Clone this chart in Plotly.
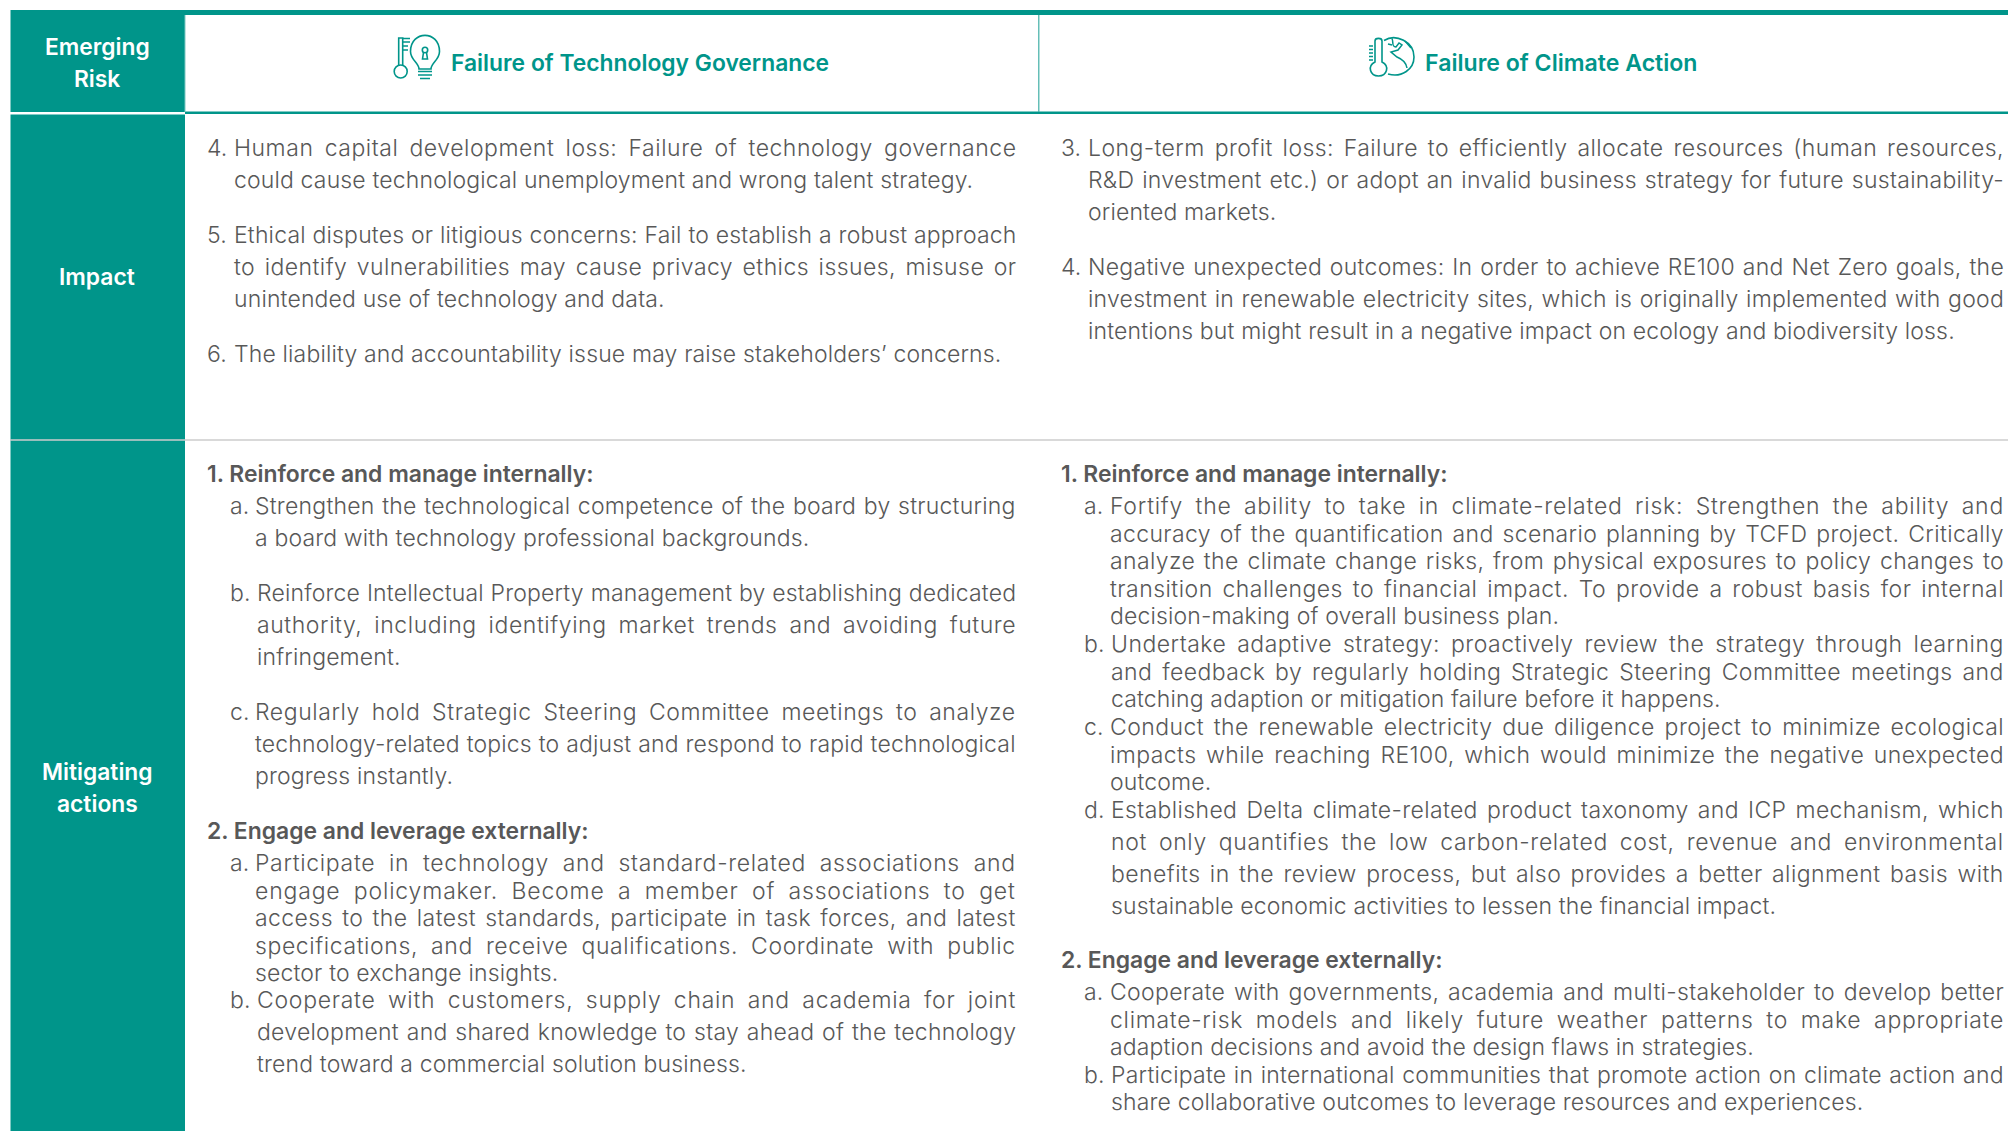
import plotly.graph_objects as go

FONT = "Inter"
TEAL = "#00958A"
GREY = "#585858"
BODY_SIZE = 23
BODY_WEIGHT = 300

ROW_LABELS = [["Emerging", "Risk"], ["Impact"], ["Mitigating", "actions"]]
COLUMN_TITLES = ["Failure of Technology Governance", "Failure of Climate Action"]

LEFT_IMPACT = [
    ("4.", ["Human capital development loss: Failure of technology governance",
            "could cause technological unemployment and wrong talent strategy."]),
    ("5.", ["Ethical disputes or litigious concerns: Fail to establish a robust approach",
            "to identify vulnerabilities may cause privacy ethics issues, misuse or",
            "unintended use of technology and data."]),
    ("6.", ["The liability and accountability issue may raise stakeholders\u2019 concerns."]),
]
RIGHT_IMPACT = [
    ("3.", ["Long-term profit loss: Failure to efficiently allocate resources (human resources,",
            "R&D investment etc.) or adopt an invalid business strategy for future sustainability-",
            "oriented markets."]),
    ("4.", ["Negative unexpected outcomes: In order to achieve RE100 and Net Zero goals, the",
            "investment in renewable electricity sites, which is originally implemented with good",
            "intentions but might result in a negative impact on ecology and biodiversity loss."]),
]
HEAD_1 = "1. Reinforce and manage internally:"
HEAD_2 = "2. Engage and leverage externally:"
LEFT_MIT_1 = [
    ("a.", ["Strengthen the technological competence of the board by structuring",
            "a board with technology professional backgrounds."]),
    ("b.", ["Reinforce Intellectual Property management by establishing dedicated",
            "authority, including identifying market trends and avoiding future",
            "infringement."]),
    ("c.", ["Regularly hold Strategic Steering Committee meetings to analyze",
            "technology-related topics to adjust and respond to rapid technological",
            "progress instantly."]),
]
LEFT_MIT_2 = [
    ("a.", ["Participate in technology and standard-related associations and",
            "engage policymaker. Become a member of associations to get",
            "access to the latest standards, participate in task forces, and latest",
            "specifications, and receive qualifications. Coordinate with public",
            "sector to exchange insights."]),
    ("b.", ["Cooperate with customers, supply chain and academia for joint",
            "development and shared knowledge to stay ahead of the technology",
            "trend toward a commercial solution business."]),
]
RIGHT_MIT_1 = [
    ("a.", ["Fortify the ability to take in climate-related risk: Strengthen the ability and",
            "accuracy of the quantification and scenario planning by TCFD project. Critically",
            "analyze the climate change risks, from physical exposures to policy changes to",
            "transition challenges to financial impact. To provide a robust basis for internal",
            "decision-making of overall business plan."]),
    ("b.", ["Undertake adaptive strategy: proactively review the strategy through learning",
            "and feedback by regularly holding Strategic Steering Committee meetings and",
            "catching adaption or mitigation failure before it happens."]),
    ("c.", ["Conduct the renewable electricity due diligence project to minimize ecological",
            "impacts while reaching RE100, which would minimize the negative unexpected",
            "outcome."]),
    ("d.", ["Established Delta climate-related product taxonomy and ICP mechanism, which",
            "not only quantifies the low carbon-related cost, revenue and environmental",
            "benefits in the review process, but also provides a better alignment basis with",
            "sustainable economic activities to lessen the financial impact."]),
]
RIGHT_MIT_2 = [
    ("a.", ["Cooperate with governments, academia and multi-stakeholder to develop better",
            "climate-risk models and likely future weather patterns to make appropriate",
            "adaption decisions and avoid the design flaws in strategies."]),
    ("b.", ["Participate in international communities that promote action on climate action and",
            "share collaborative outcomes to leverage resources and experiences."]),
]

W, H = 2008, 1131
shapes, anns = [], []


def rect(x0, y0, x1, y1, color):
    shapes.append(dict(type="rect", xref="x", yref="y", x0=x0, y0=y0, x1=x1, y1=y1,
                       fillcolor=color, line_width=0, layer="below"))


def path(d, width=1.6):
    shapes.append(dict(type="path", xref="x", yref="y", path=d,
                       line=dict(color=TEAL, width=width),
                       fillcolor="rgba(0,0,0,0)"))


def circle(cx, cy, r, width=1.6):
    shapes.append(dict(type="circle", xref="x", yref="y",
                       x0=cx - r, y0=cy - r, x1=cx + r, y1=cy + r,
                       line=dict(color=TEAL, width=width),
                       fillcolor="rgba(0,0,0,0)"))


def text(x, y, s, size=BODY_SIZE, color=GREY, weight=BODY_WEIGHT, anchor="left", right=None):
    anns.append(dict(xref="x", yref="y", x=x, y=y, text=s, showarrow=False,
                     xanchor=anchor, yanchor="middle", align=anchor,
                     font=dict(family=FONT, size=size, color=color, weight=weight),
                     borderpad=0, borderwidth=0,
                     name=f"j{right}" if right else "n"))


def flow(paragraphs, y, xm, xt, right, pitches, gaps, offsets=None):
    for i, (mark, lines) in enumerate(paragraphs):
        text(xm, y, mark)
        dx = offsets[i] if offsets else 0
        for k, line in enumerate(lines):
            text(xt + dx, y, line, right=right if k < len(lines) - 1 else None)
            if k < len(lines) - 1:
                y += pitches[i]
        y += gaps[i]


# table frame
rect(10.5, 10, 185, H, TEAL)
rect(185, 10, W, 15, TEAL)
rect(185, 111.5, W, 114, TEAL)
rect(10, 112, 185, 114.5, "#FFFFFF")
rect(185, 439.2, W, 440.8, "#CCCCCC")
rect(10, 439.2, 185, 440.8, "#CCCCCC")
rect(1038.2, 15, 1039.4, 112, "#3FAEA6")
rect(184.5, 15, 185.5, 112, "#7CC8C2")

# row labels
for lines, ys in zip(ROW_LABELS, [[46.5, 78.5], [276.5], [771.5, 803.5]]):
    for s, y in zip(lines, ys):
        text(97, y, s, size=22.8, color="#FFFFFF", weight=600, anchor="center")

# column titles
text(451, 63.2, COLUMN_TITLES[0], size=22.85, color=TEAL, weight=600)
text(1425, 63.2, COLUMN_TITLES[1], size=23.1, color=TEAL, weight=600)

# impact row
flow(LEFT_IMPACT, 148, 207.2, 233.5, 1016, [32, 32, 32], [55, 55, 0])
flow(RIGHT_IMPACT, 148, 1061.2, 1088, 2004, [32, 32], [55, 0])

# mitigation row, left column
text(207.2, 474, HEAD_1, weight=600, size=22.9)
flow(LEFT_MIT_1, 506, 230, 255.3, 1016, [32, 32, 32], [55, 55, 0], [0, 1.5, 0])
text(207.2, 831, HEAD_2, weight=600, size=22.9)
flow(LEFT_MIT_2, 863, 230, 255.3, 1016, [27.5, 32], [27, 0], [0, 1.5])

# mitigation row, right column
text(1061.2, 474, HEAD_1, weight=600, size=22.9)
flow(RIGHT_MIT_1, 506, 1084, 1110, 2004, [27.5, 27.5, 27.5, 32], [28, 28, 27.5, 0], [0, 1.2, 0, 1.2])
text(1061.2, 960, HEAD_2, weight=600, size=22.9)
flow(RIGHT_MIT_2, 992, 1084, 1110, 2004, [27.5, 27.5], [27.5, 0], [0, 1.2])

# key + bulb icon
path("M398.7,65.5 L398.7,38 L402.7,38 L402.7,65.5")
circle(400.7, 71.5, 6.5)
path("M402.7,38.5 L410,38.5 M402.7,42 L410,42 M402.7,46 L408,46 M402.7,50 L408,50")
path("M419,69 C419,63 410.5,60 410.5,51.5 C410.5,30 439.5,30 439.5,51.5 C439.5,60 431,63 431,69 Z")
path("M418,71.5 L432,71.5 M418,75 L432,75 M420,78.5 L430,78.5")
circle(425, 50, 2.7)
path("M423.5,52.5 L422.5,59 L427.5,59 L426.5,52.5")

# thermometer + globe icon
path("M1375,41 L1375,62 C1367,66 1370,76 1378.5,76 C1387,76 1390,66 1382,62 L1382,41 C1382,37.5 1375,37.5 1375,41 Z")
path("M1369,46 L1373,46 M1369,49.5 L1373,49.5 M1369,53 L1373,53 M1369,56.5 L1373,56.5 M1369,60 L1373,60", width=1.3)
path("M1384,40.5 C1396,33 1414,42 1414,57 C1414,69 1402,78 1388,74", width=1.6)
path("M1392,38.5 C1394,43 1391,46 1396,47 L1399,43 L1402,45 L1398,50 L1391,52 L1397,57 C1402,59 1406,62 1407,68", width=1.5)
path("M1388,44 L1392,45 M1405,41 L1411,48", width=1.5)

fig = go.Figure()
fig.update_layout(
    width=W, height=H, margin=dict(l=0, r=0, t=0, b=0),
    paper_bgcolor="#FFFFFF", plot_bgcolor="#FFFFFF", showlegend=False,
    xaxis=dict(range=[0, W], visible=False, fixedrange=True),
    yaxis=dict(range=[H, 0], visible=False, fixedrange=True),
    shapes=shapes, annotations=anns,
)

JUSTIFY = """
document.body.style.margin = '0';
document.body.style.overflow = 'hidden';
var gd = document.getElementById('{plot_id}');
var BASE = 0.15, LETTER_SHARE = 0.45;
(gd.layout.annotations || []).forEach(function (a, i) {
  var t = document.querySelector('.annotation[data-index="' + i + '"] text');
  if (!t) return;
  if (a.font.weight === 300) t.style.letterSpacing = BASE + 'px';
  if (!a.name || a.name.charAt(0) !== 'j') return;
  var spaces = (a.text.match(/ /g) || []).length;
  if (!spaces) return;
  var target = parseFloat(a.name.slice(1)) - a.x;
  var excess = target - t.getComputedTextLength();
  t.style.letterSpacing = (BASE + excess * LETTER_SHARE / a.text.length) + 'px';
  t.style.wordSpacing = (excess * (1 - LETTER_SHARE) / spaces) + 'px';
});
"""
fig.write_html("out.html", post_script=JUSTIFY, config=dict(displayModeBar=False))
